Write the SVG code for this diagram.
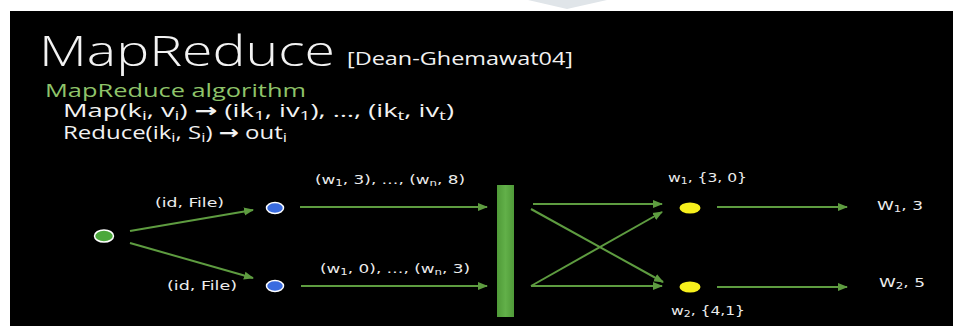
<svg xmlns="http://www.w3.org/2000/svg" width="953" height="326" viewBox="0 0 953 326">
<defs>
<marker id="ah" viewBox="0 0 10 10" refX="9" refY="5" markerWidth="5" markerHeight="5" orient="auto" markerUnits="strokeWidth">
<path d="M0,1 L10,5 L0,9 z" fill="#5e9c40"/>
</marker>
<linearGradient id="barg" x1="0" y1="0" x2="1" y2="0">
<stop offset="0" stop-color="#4f9a38"/><stop offset="0.5" stop-color="#62b049"/><stop offset="1" stop-color="#4f9a38"/>
</linearGradient>
</defs>
<style>
.t{fill:#f2f2f2;font-family:"Open Sans","Liberation Sans",sans-serif}
.h{fill:#8fc46a;font-family:"Open Sans","Liberation Sans",sans-serif}
.l{fill:#ececec;font-family:"DejaVu Sans","Liberation Sans",sans-serif;font-size:13px}
.e{stroke:#5e9c40;stroke-width:2;fill:none;marker-end:url(#ah)}
.s{font-size:70%}
.a{font-family:"DejaVu Sans",sans-serif;font-weight:bold}
</style>
<rect x="0" y="0" width="953" height="326" fill="#ffffff"/>
<polygon points="528,0 607,0 567,9" fill="#e0e5e9"/>
<rect x="10" y="11" width="943" height="315" fill="#000000"/>

<g id="title">
<text class="t" x="39" y="66" font-size="43" font-weight="300" textLength="296" lengthAdjust="spacingAndGlyphs">MapReduce</text>
<text class="t" x="347" y="65" font-size="18" textLength="226" lengthAdjust="spacingAndGlyphs">[Dean-Ghemawat04]</text>
</g>
<g id="algorithm">
<text class="h" x="45" y="97" font-size="19" textLength="261" lengthAdjust="spacingAndGlyphs">MapReduce algorithm</text>
<text class="t" x="63" y="117" font-size="19" textLength="391" lengthAdjust="spacingAndGlyphs">Map(k<tspan class="s" dy="3">i</tspan><tspan dy="-3">, v</tspan><tspan class="s" dy="3">i</tspan><tspan dy="-3">) </tspan><tspan class="a">→</tspan> (ik<tspan class="s" dy="3">1</tspan><tspan dy="-3">, iv</tspan><tspan class="s" dy="3">1</tspan><tspan dy="-3">), …, (ik</tspan><tspan class="s" dy="3">t</tspan><tspan dy="-3">, iv</tspan><tspan class="s" dy="3">t</tspan><tspan dy="-3">)</tspan></text>
<text class="t" x="63" y="139" font-size="19" textLength="224" lengthAdjust="spacingAndGlyphs">Reduce(ik<tspan class="s" dy="3">i</tspan><tspan dy="-3">, S</tspan><tspan class="s" dy="3">i</tspan><tspan dy="-3">) </tspan><tspan class="a">→</tspan> out<tspan class="s" dy="3">i</tspan></text>
</g>

<g id="connectors">
<line class="e" x1="130" y1="231" x2="253" y2="210"/>
<line class="e" x1="130" y1="243" x2="253" y2="278"/>
<line class="e" x1="300" y1="207" x2="487" y2="207"/>
<line class="e" x1="301" y1="286" x2="487" y2="286"/>
<line class="e" x1="533" y1="204" x2="662" y2="204"/>
<line class="e" x1="531" y1="209" x2="663" y2="282"/>
<line class="e" x1="531" y1="286" x2="662" y2="212"/>
<line class="e" x1="531" y1="286" x2="662" y2="286"/>
<line class="e" x1="717" y1="207" x2="847" y2="207"/>
<line class="e" x1="717" y1="287" x2="847" y2="287"/>
</g>

<g id="source"><ellipse cx="104" cy="236" rx="9.5" ry="6" fill="#4ca83c" stroke="#ffffff" stroke-width="1.5"/></g>
<g id="map1"><ellipse cx="275" cy="208" rx="8.5" ry="5.5" fill="#3a6ce0" stroke="#ffffff" stroke-width="1.5"/>
<text class="l" x="155" y="207" textLength="69" lengthAdjust="spacingAndGlyphs">(id, File)</text>
<text class="l" x="315" y="184" textLength="150" lengthAdjust="spacingAndGlyphs">(w<tspan class="s" dy="2">1</tspan><tspan dy="-2">, 3), …, (w</tspan><tspan class="s" dy="2">n</tspan><tspan dy="-2">, 8)</tspan></text>
</g>
<g id="map2"><ellipse cx="275" cy="286" rx="8.5" ry="5.5" fill="#3a6ce0" stroke="#ffffff" stroke-width="1.5"/>
<text class="l" x="167" y="290" textLength="70" lengthAdjust="spacingAndGlyphs">(id, File)</text>
<text class="l" x="320" y="273" textLength="150" lengthAdjust="spacingAndGlyphs">(w<tspan class="s" dy="2">1</tspan><tspan dy="-2">, 0), …, (w</tspan><tspan class="s" dy="2">n</tspan><tspan dy="-2">, 3)</tspan></text>
</g>
<g id="shuffle"><rect x="497" y="185" width="17" height="132" fill="url(#barg)"/></g>
<g id="reduce1"><ellipse cx="690" cy="208" rx="10.5" ry="5.5" fill="#f7f01c"/>
<text class="l" x="668" y="182" textLength="79" lengthAdjust="spacingAndGlyphs">w<tspan class="s" dy="2">1</tspan><tspan dy="-2">, {3, 0}</tspan></text>
</g>
<g id="reduce2"><ellipse cx="690" cy="287" rx="10.5" ry="5.5" fill="#f7f01c"/>
<text class="l" x="671" y="315" textLength="74" lengthAdjust="spacingAndGlyphs">w<tspan class="s" dy="2">2</tspan><tspan dy="-2">, {4,1}</tspan></text>
</g>
<g id="out1"><text class="l" x="877" y="210" textLength="46" lengthAdjust="spacingAndGlyphs">W<tspan class="s" dy="2">1</tspan><tspan dy="-2">, 3</tspan></text></g>
<g id="out2"><text class="l" x="879" y="287" textLength="46" lengthAdjust="spacingAndGlyphs">W<tspan class="s" dy="2">2</tspan><tspan dy="-2">, 5</tspan></text></g>
</svg>
